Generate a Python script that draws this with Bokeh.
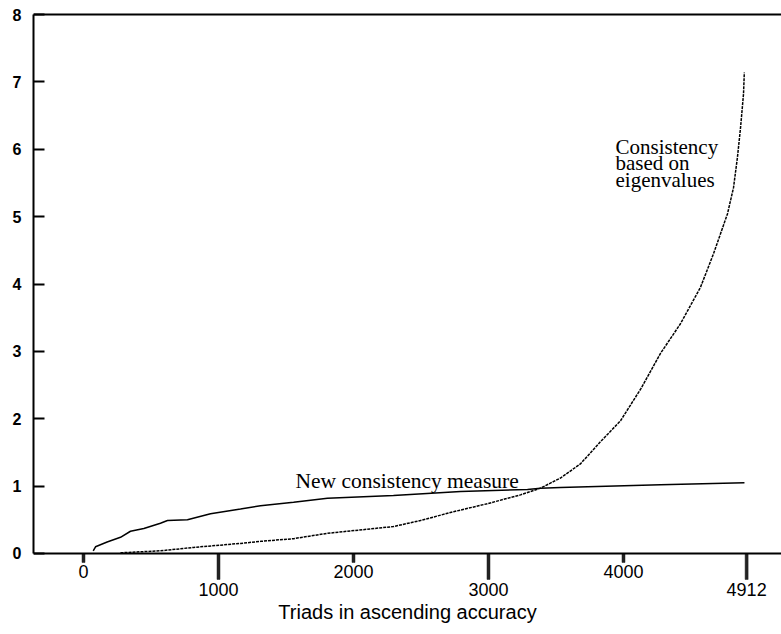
import numpy as np
from bokeh.plotting import figure
from bokeh.models import Range1d, FixedTicker, Span, Label
from bokeh.embed import file_html
from bokeh.resources import INLINE
from bokeh.core.properties import value

# --- data ---
new_x = [72, 89, 175, 274, 348, 447, 570, 622, 770, 941, 1163, 1311, 1556,
         1807, 2296, 2793, 3289, 3385, 3533, 4274, 4896]
new_y = [0.04, 0.10, 0.17, 0.24, 0.33, 0.37, 0.45, 0.49, 0.50, 0.59, 0.66,
         0.71, 0.76, 0.82, 0.86, 0.92, 0.95, 0.97, 0.98, 1.02, 1.05]

eig_x = [274, 570, 815, 1163, 1311, 1556, 1807, 2296, 2496, 2741, 2993, 3237,
         3385, 3533, 3681, 3830, 3978, 4130, 4274, 4422, 4570, 4667, 4770,
         4815, 4844, 4867, 4889, 4895]
eig_y = [0.01, 0.04, 0.09, 0.15, 0.18, 0.22, 0.30, 0.40, 0.49, 0.62, 0.74,
         0.87, 0.97, 1.12, 1.33, 1.66, 1.97, 2.45, 2.97, 3.41, 3.95, 4.45,
         5.04, 5.43, 5.88, 6.32, 6.82, 7.14]

y_ticks = [0, 1, 2, 3, 4, 5, 6, 7, 8]
x_ticks_upper = [0, 2000, 4000]
x_labels_upper = ["0", "2000", "4000"]
x_ticks_lower = [1000, 3000, 4912]
x_labels_lower = ["1000", "3000", "4912"]

x_title = "Triads in ascending accuracy"
label_new = "New consistency measure"
label_eig = ["Consistency", "based on", "eigenvalues"]

SANS = "Liberation Sans"
SERIF = "Liberation Serif"

Y0, Y1 = -0.6976, 8.0297
FRAME_H = 634 - 12 - 34
PX_PER_UNIT = FRAME_H / (Y1 - Y0)
SHORT_TICK, LONG_TICK = 9, 26   # screen px

p = figure(width=781, height=634, output_backend="svg", toolbar_location=None,
           x_range=Range1d(-370.4, 5170.4), y_range=Range1d(Y0, Y1),
           min_border_left=33, min_border_right=0, min_border_top=12,
           min_border_bottom=34)
p.grid.visible = False
p.outline_line_color = None
p.background_fill_color = "white"
p.border_fill_color = "white"

# y axis
ya = p.yaxis[0]
ya.ticker = FixedTicker(ticks=y_ticks)
ya.bounds = (0, 8)
ya.major_tick_in = 11
ya.major_tick_out = 0
ya.minor_tick_line_color = None
ya.axis_line_width = 2
ya.major_tick_line_width = 2
ya.major_tick_line_color = "black"
ya.axis_line_color = "black"
ya.major_label_text_font = SANS
ya.major_label_text_font_size = "16px"
ya.major_label_text_font_style = "bold"
ya.major_label_text_color = "black"
ya.major_label_standoff = 12

# x axis (title only; ticks drawn in the frame)
xa = p.xaxis[0]
xa.ticker = FixedTicker(ticks=[])
xa.axis_line_color = None
xa.major_tick_line_color = None
xa.minor_tick_line_color = None
xa.major_label_text_font_size = "0px"
xa.axis_label = x_title
xa.axis_label_text_font = SANS
xa.axis_label_text_font_size = "20px"
xa.axis_label_text_font_style = "normal"
xa.axis_label_text_color = "black"
xa.axis_label_standoff = 0

# frame lines
p.add_layout(Span(location=0, dimension="width", line_color="black", line_width=2))
p.add_layout(Span(location=8, dimension="width", line_color="black", line_width=2))

# x ticks hanging below the axis line (short for upper labels, long for lower)
p.rect(x=x_ticks_upper, y=[-SHORT_TICK / 2 / PX_PER_UNIT] * len(x_ticks_upper),
       width=3, height=SHORT_TICK, width_units="screen", height_units="screen",
       fill_color="#222222", line_color="#222222", line_width=0.5)
p.rect(x=x_ticks_lower, y=[-LONG_TICK / 2 / PX_PER_UNIT] * len(x_ticks_lower),
       width=3, height=LONG_TICK, width_units="screen", height_units="screen",
       fill_color="#222222", line_color="#222222", line_width=0.5)
p.text(x=x_ticks_upper, y=[0] * len(x_ticks_upper), text=x_labels_upper,
       y_offset=12, text_align="center", text_baseline="top",
       text_font=value(SANS), text_font_size="18px", text_color="black")
p.text(x=x_ticks_lower, y=[0] * len(x_ticks_lower), text=x_labels_lower,
       y_offset=30, text_align="center", text_baseline="top",
       text_font=value(SANS), text_font_size="18px", text_color="black")

# curves
p.line(new_x, new_y, line_color="black", line_width=1.5)
p.line(eig_x, eig_y, line_color="black", line_width=1.5, line_dash="3 1")

# annotations
p.add_layout(Label(x=1570, y=1.07, text=label_new, text_font=SERIF,
                   text_font_size="21.5px", text_baseline="alphabetic",
                   text_color="black"))
for txt, yy in zip(label_eig, [6.04, 5.79, 5.55]):
    p.add_layout(Label(x=3941, y=yy, text=txt, text_font=SERIF,
                       text_font_size="21px", text_baseline="alphabetic",
                       text_color="black"))

open("out.html", "w").write(file_html(p, INLINE))
